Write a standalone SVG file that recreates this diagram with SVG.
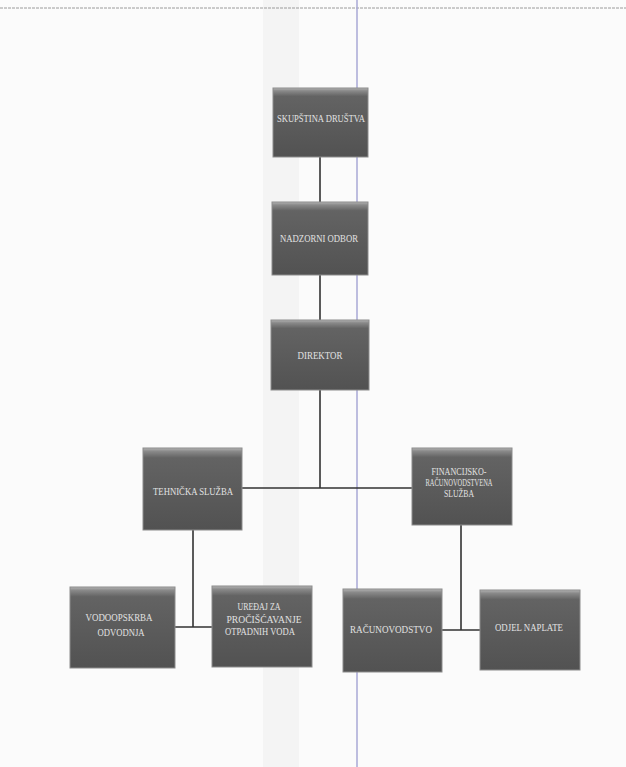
<svg xmlns="http://www.w3.org/2000/svg" width="626" height="767" viewBox="0 0 626 767">
<defs>
<linearGradient id="boxg" x1="0" y1="0" x2="0" y2="1">
<stop offset="0" stop-color="#b4b4b4"/>
<stop offset="0.04" stop-color="#8a8a8a"/>
<stop offset="0.12" stop-color="#636363"/>
<stop offset="1" stop-color="#525252"/>
</linearGradient>
<style>
.box{fill:url(#boxg);stroke:#8c8c8c;stroke-width:1}
.lbl{font-family:"Liberation Serif","DejaVu Serif",serif;font-size:9.5px;fill:#e2e2e2;text-anchor:middle}
.con{stroke:#333;stroke-width:1.6;fill:none}
</style>
</defs>
<rect x="0" y="0" width="626" height="767" fill="#fbfbfb"/>
<rect x="263" y="0" width="36" height="767" fill="#f4f4f4"/>
<line x1="0" y1="8" x2="626" y2="8" stroke="#9a9a9a" stroke-width="1" stroke-dasharray="3 1"/>
<line x1="357" y1="0" x2="357" y2="767" stroke="#a9a9d6" stroke-width="1.5"/>
<g id="connectors">
<path class="con" d="M320 157V202M320 275V320M320 390V488M242 488H412"/>
<path class="con" d="M193 530V627M175 627H212"/>
<path class="con" d="M461 525V630M442 630H480"/>
</g>
<g id="skupstina">
<rect class="box" x="273" y="88" width="95" height="69"/>
<text class="lbl" x="321" y="122" textLength="88" lengthAdjust="spacingAndGlyphs">SKUPŠTINA DRUŠTVA</text>
</g>
<g id="nadzorni">
<rect class="box" x="272" y="202" width="96" height="73"/>
<text class="lbl" x="319" y="242" textLength="78" lengthAdjust="spacingAndGlyphs">NADZORNI ODBOR</text>
</g>
<g id="direktor">
<rect class="box" x="271" y="320" width="98" height="70"/>
<text class="lbl" x="320" y="359" textLength="45" lengthAdjust="spacingAndGlyphs">DIREKTOR</text>
</g>
<g id="tehnicka">
<rect class="box" x="143" y="448" width="99" height="82"/>
<text class="lbl" x="193" y="495" textLength="80" lengthAdjust="spacingAndGlyphs">TEHNIČKA SLUŽBA</text>
</g>
<g id="financijsko">
<rect class="box" x="412" y="448" width="100" height="77"/>
<text class="lbl" x="459" y="475" textLength="55" lengthAdjust="spacingAndGlyphs">FINANCIJSKO-</text>
<text class="lbl" x="459" y="486" textLength="67" lengthAdjust="spacingAndGlyphs">RAČUNOVODSTVENA</text>
<text class="lbl" x="459" y="497" textLength="30" lengthAdjust="spacingAndGlyphs">SLUŽBA</text>
</g>
<g id="vodoopskrba">
<rect class="box" x="70" y="587" width="105" height="81"/>
<text class="lbl" x="119" y="621" textLength="67" lengthAdjust="spacingAndGlyphs">VODOOPSKRBA</text>
<text class="lbl" x="121" y="636" textLength="47" lengthAdjust="spacingAndGlyphs">ODVODNJA</text>
</g>
<g id="uredaj">
<rect class="box" x="212" y="586" width="100" height="81"/>
<text class="lbl" x="259" y="610" textLength="43" lengthAdjust="spacingAndGlyphs">UREĐAJ  ZA</text>
<text class="lbl" x="264" y="623" textLength="75" lengthAdjust="spacingAndGlyphs">PROČIŠĆAVANJE</text>
<text class="lbl" x="260" y="635" textLength="70" lengthAdjust="spacingAndGlyphs">OTPADNIH VODA</text>
</g>
<g id="racunovodstvo">
<rect class="box" x="343" y="589" width="99" height="83"/>
<text class="lbl" x="391" y="633" textLength="82" lengthAdjust="spacingAndGlyphs">RAČUNOVODSTVO</text>
</g>
<g id="odjel">
<rect class="box" x="480" y="590" width="100" height="80"/>
<text class="lbl" x="529" y="631" textLength="68" lengthAdjust="spacingAndGlyphs">ODJEL NAPLATE</text>
</g>
</svg>
